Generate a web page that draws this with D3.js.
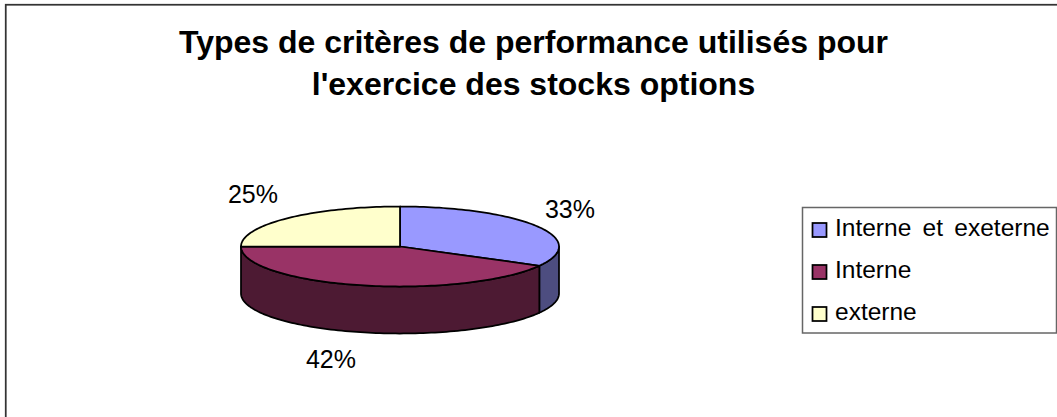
<!DOCTYPE html>
<html><head><meta charset="utf-8">
<script src="https://cdn.jsdelivr.net/npm/d3@7"></script>
<style>html,body{margin:0;padding:0;background:#fff}svg{display:block}text{font-family:"Liberation Sans",Arial,sans-serif;fill:#000}</style>
</head><body><script>
const categories = ["Interne et exeterne", "Interne", "externe"];
const values = [33, 42, 25];
const topColors = ["#9999ff", "#993366", "#ffffcc"];
const sideColors = ["#4d4d80", "#4d1a33", "#808066"];
const titleLines = ["Types de critères de performance utilisés pour", "l'exercice des stocks options"];

const W = 1057, H = 417;
const svg = d3.select("body").append("svg").attr("width", W).attr("height", H);
svg.append("rect").attr("x", 5.75).attr("y", 4.75).attr("width", W + 10).attr("height", H + 10)
  .attr("fill", "#fff").attr("stroke", "#333").attr("stroke-width", 1.75);

svg.selectAll("text.title").data(titleLines).join("text").attr("class", "title")
  .attr("x", 533.5).attr("y", (d, i) => 52.5 + i * 42).attr("text-anchor", "middle")
  .attr("font-size", 32).attr("font-weight", "bold").text(d => d);

const cx = 400, cy = 246.5, rx = 159, ry = 40, depth = 47;
const total = d3.sum(values);
const arcs = d3.pie().sort(null).value(d => d)(values);
const ex = d3.scaleLinear().domain([-1, 1]).range([cx - rx, cx + rx]);
const ey = d3.scaleLinear().domain([-1, 1]).range([cy - ry, cy + ry]);
const px = a => ex(Math.sin(a)), py = a => ey(-Math.cos(a));
const line = d3.line();
function samples(a0, a1) {
  const n = Math.max(2, Math.ceil((a1 - a0) * 40));
  return d3.range(n + 1).map(i => a0 + (a1 - a0) * i / n);
}
const stroke = {stroke: "#000", width: 1.75};
// side walls: only the front half (pi/2 .. 3pi/2) is visible
arcs.forEach((a, i) => {
  const s = Math.max(a.startAngle, Math.PI / 2), e = Math.min(a.endAngle, 1.5 * Math.PI);
  if (e <= s) return;
  const top = samples(s, e).map(t => [px(t), py(t)]);
  const bot = samples(s, e).reverse().map(t => [px(t), py(t) + depth]);
  svg.append("path").attr("d", line(top.concat(bot)) + "Z")
    .attr("fill", sideColors[i]).attr("stroke", stroke.stroke).attr("stroke-width", stroke.width).attr("stroke-linejoin", "round");
});
// top faces
arcs.forEach((a, i) => {
  const rim = samples(a.startAngle, a.endAngle).map(t => [px(t), py(t)]);
  svg.append("path").attr("d", line([[cx, cy]].concat(rim)) + "Z")
    .attr("fill", topColors[i]).attr("stroke", stroke.stroke).attr("stroke-width", stroke.width).attr("stroke-linejoin", "round");
});
// percent labels
const labelPos = [[570, 218], [331, 368], [253, 203]];
svg.selectAll("text.pct").data(values).join("text").attr("class", "pct")
  .attr("x", (d, i) => labelPos[i][0]).attr("y", (d, i) => labelPos[i][1])
  .attr("text-anchor", "middle").attr("font-size", 25)
  .text(d => d3.format(".0%")(d / total));

// legend
svg.append("rect").attr("x", 802.5).attr("y", 207.5).attr("width", 254).attr("height", 125.5)
  .attr("fill", "#fff").attr("stroke", "#666").attr("stroke-width", 1.5);
const ly = d3.scalePoint().domain(categories).range([229, 313]);
const items = svg.selectAll("g.leg").data(categories).join("g").attr("class", "leg")
  .attr("transform", d => `translate(0,${ly(d)})`);
items.append("rect").attr("x", 812.5).attr("y", -6).attr("width", 14).attr("height", 14)
  .attr("fill", (d, i) => topColors[i]).attr("stroke", "#000").attr("stroke-width", 1.75);
items.append("text").attr("x", 835).attr("y", 7).attr("font-size", 24.5).attr("word-spacing", 4.5).text(d => d);
</script></body></html>
